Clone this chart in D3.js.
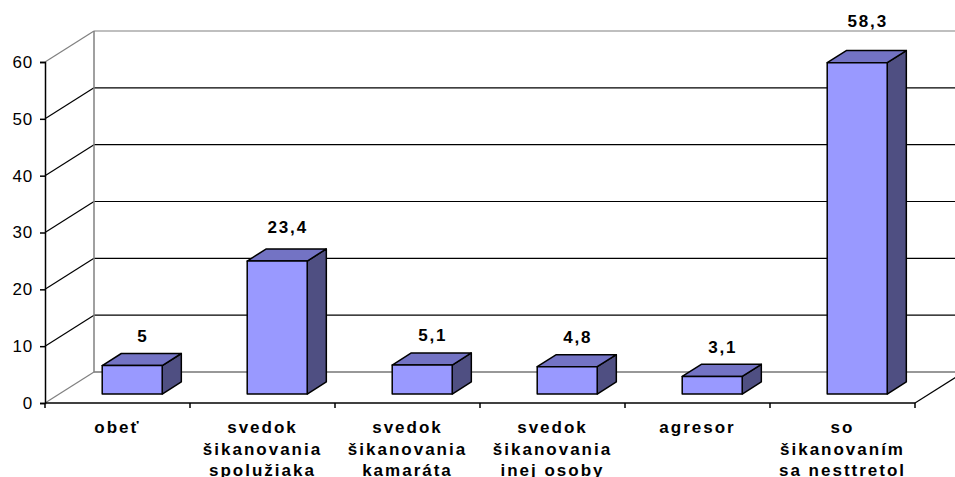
<!DOCTYPE html>
<html>
<head>
<meta charset="utf-8">
<script src="https://cdn.jsdelivr.net/npm/d3@7"></script>
<style>
  body { margin: 0; background: #fff; }
  svg { display: block; font-family: Arial, "Liberation Sans", sans-serif; }
</style>
</head>
<body>
<div id="chart"></div>
<script>
// category labels (split into lines) and values
const categories = [
  ['obeť'],
  ['svedok', 'šikanovania', 'spolužiaka'],
  ['svedok', 'šikanovania', 'kamaráta'],
  ['svedok', 'šikanovania', 'inej osoby'],
  ['agresor'],
  ['so', 'šikanovaním', 'sa nesttretol']
];
const values = [5, 23.4, 5.1, 4.8, 3.1, 58.3];
const valueLabels = ['5', '23,4', '5,1', '4,8', '3,1', '58,3'];
const yTicks = [0, 10, 20, 30, 40, 50, 60];

const width = 955, height = 477;
const depthX = 49, depthY = -31;   // back wall offset
const z0 = 0.29, z1 = 0.68;        // bar front / back depth
const barW = 60;

const svg = d3.select('#chart').append('svg')
  .attr('width', width)
  .attr('height', height);

const xScale = d3.scaleBand()
  .domain(d3.range(categories.length))
  .range([45, 915]);

const yScale = d3.scaleLinear()
  .domain([0, 60])
  .range([403, 62]);

// label positions above bars (Excel places them slightly further at large values)
const labelScale = d3.scaleLinear()
  .domain([0, 60])
  .range([365.5, 10.9]);

const px = (x, z) => x + z * depthX;
const py = (v, z) => yScale(v) + z * depthY;

// back wall gridlines
yTicks.forEach(t => {
  const top = t === 60;
  svg.append('line')
    .attr('x1', px(45, 0)).attr('y1', py(t, 0))
    .attr('x2', px(45, 1)).attr('y2', py(t, 1))
    .attr('stroke', (t === 0 || top) ? '#808080' : '#000')
    .attr('stroke-width', 1.2);
  svg.append('line')
    .attr('x1', px(45, 1)).attr('y1', py(t, 1))
    .attr('x2', px(915, 1)).attr('y2', py(t, 1))
    .attr('stroke', top ? '#808080' : (t === 0 ? '#333' : '#000'))
    .attr('stroke-width', 1.2);
});

// back wall left edge
svg.append('line')
  .attr('x1', px(45, 1)).attr('y1', py(0, 1))
  .attr('x2', px(45, 1)).attr('y2', py(60, 1))
  .attr('stroke', '#808080')
  .attr('stroke-width', 1.5);

// floor right edge
svg.append('line')
  .attr('x1', px(915, 0)).attr('y1', py(0, 0))
  .attr('x2', px(915, 1)).attr('y2', py(0, 1))
  .attr('stroke', '#000')
  .attr('stroke-width', 1.2);

// bars
const bars = svg.append('g');
values.forEach((v, i) => {
  const cx = xScale(i) + xScale.bandwidth() / 2 + 0.5;
  const xl = cx - barW / 2, xr = cx + barW / 2;
  const pt = (x, val, z) => [px(x, z), py(val, z)];
  const poly = pts => pts.map(p => p.join(',')).join(' ');
  // side face
  bars.append('polygon')
    .attr('points', poly([pt(xr, 0, z0), pt(xr, 0, z1), pt(xr, v, z1), pt(xr, v, z0)]))
    .attr('fill', '#4f4f82')
    .attr('stroke', '#000')
    .attr('stroke-width', 1.5)
    .attr('stroke-linejoin', 'round');
  // top face
  bars.append('polygon')
    .attr('points', poly([pt(xl, v, z0), pt(xl, v, z1), pt(xr, v, z1), pt(xr, v, z0)]))
    .attr('fill', '#7373c4')
    .attr('stroke', '#000')
    .attr('stroke-width', 1.5)
    .attr('stroke-linejoin', 'round');
  // front face
  bars.append('polygon')
    .attr('points', poly([pt(xl, 0, z0), pt(xr, 0, z0), pt(xr, v, z0), pt(xl, v, z0)]))
    .attr('fill', '#9999ff')
    .attr('stroke', '#000')
    .attr('stroke-width', 1.5)
    .attr('stroke-linejoin', 'round');

  // value label
  svg.append('text')
    .attr('x', px(cx, (z0 + z1) / 2) + 1)
    .attr('y', labelScale(v) + 6)
    .attr('text-anchor', 'middle')
    .attr('font-size', '17px')
    .attr('font-weight', 'bold')
    .attr('letter-spacing', '1.8px')
    .attr('fill', '#000')
    .text(valueLabels[i]);
});

// y axis
const yAxis = svg.append('g')
  .attr('transform', 'translate(45,0)')
  .call(d3.axisLeft(yScale).tickValues(yTicks).tickSize(5).tickPadding(7).tickFormat(d3.format('d')));
yAxis.select('.domain').attr('stroke', '#000').attr('stroke-width', 1.5);
yAxis.selectAll('.tick line').attr('stroke', '#000').attr('stroke-width', 1.5);
yAxis.selectAll('.tick text')
  .attr('font-size', '17px')
  .attr('font-family', 'Arial, "Liberation Sans", sans-serif')
  .attr('letter-spacing', '0.8px')
  .attr('fill', '#000');

// x axis (front floor edge)
const xAxis = svg.append('g')
  .attr('transform', 'translate(0,403)');
xAxis.append('line')
  .attr('x1', 45).attr('x2', 915)
  .attr('stroke', '#000').attr('stroke-width', 1.5);
d3.range(categories.length + 1).forEach(i => {
  const x = i < categories.length ? xScale(i) : xScale.range()[1];
  xAxis.append('line')
    .attr('x1', x).attr('x2', x)
    .attr('y1', 0).attr('y2', 5)
    .attr('stroke', '#000').attr('stroke-width', 1.5);
});

categories.forEach((lines, i) => {
  const cx = xScale(i) + xScale.bandwidth() / 2;
  const t = xAxis.append('text')
    .attr('x', cx)
    .attr('y', 30)
    .attr('text-anchor', 'middle')
    .attr('font-size', '17px')
    .attr('font-weight', 'bold')
    .attr('letter-spacing', '2px')
    .attr('fill', '#000');
  lines.forEach((ln, j) => {
    t.append('tspan')
      .attr('x', cx)
      .attr('dy', j === 0 ? 0 : 21.5)
      .text(ln);
  });
});
</script>
</body>
</html>
